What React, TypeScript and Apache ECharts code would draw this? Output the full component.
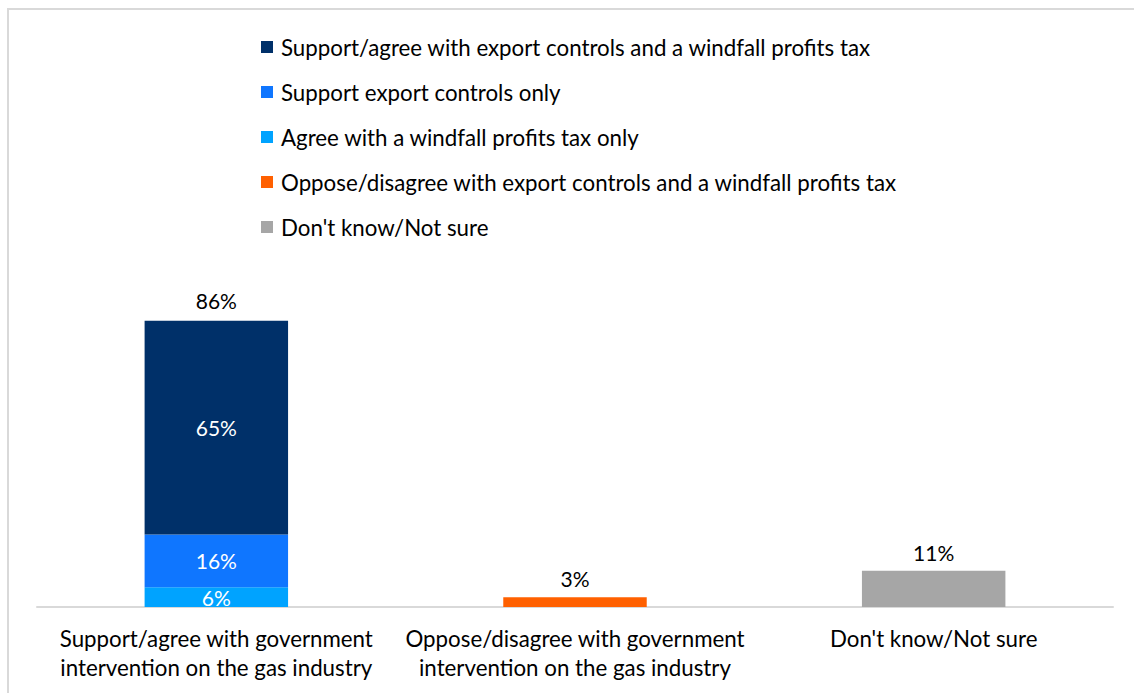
import React, { useEffect, useRef } from "react";
import * as echarts from "echarts";

const categories = [
  "Support/agree with government\nintervention on the gas industry",
  "Oppose/disagree with government\nintervention on the gas industry",
  "Don't know/Not sure",
];
const seriesNames = [
  "Support/agree with export controls and a windfall profits tax",
  "Support export controls only",
  "Agree with a windfall profits tax only",
  "Oppose/disagree with export controls and a windfall profits tax",
  "Don't know/Not sure",
];
const bothValues = [65, "-", "-"];
const exportOnlyValues = [16, "-", "-"];
const taxOnlyValues = [6, "-", "-"];
const opposeValues = ["-", 3, "-"];
const dontKnowValues = ["-", "-", 11];
const totalLabels = [86, null, null];

const COLORS = ["#003069", "#0F76FF", "#00A3FF", "#FF6000", "#A6A6A6"];
const FONT = "Lato";
const FS = 22.3;
const LFS = 21;

export default function App() {
  const ref = useRef<HTMLDivElement>(null);
  useEffect(() => {
    if (!ref.current) return;
    const chart = echarts.init(ref.current, null, { renderer: "svg" });
    const pct = (p: any) => `${p.value}%`;
    const inside = {
      show: true,
      position: "inside",
      color: "#ffffff",
      fontSize: LFS,
      fontFamily: FONT,
      formatter: pct,
    };
    const top = {
      show: true,
      position: "top",
      distance: 8,
      color: "#000000",
      fontSize: LFS,
      fontFamily: FONT,
      formatter: pct,
    };
    chart.setOption({
      animation: false,
      backgroundColor: "#ffffff",
      graphic: [
        {
          type: "rect",
          shape: { x: 8, y: 9, width: 1400, height: 1000 },
          style: { fill: "none", stroke: "#d9d9d9", lineWidth: 2 },
          silent: true,
        },
      ],
      legend: {
        orient: "vertical",
        left: 261,
        top: 36,
        padding: 0,
        itemWidth: 12,
        itemHeight: 12,
        itemGap: 23,
        icon: "rect",
        data: seriesNames,
        textStyle: {
          fontSize: FS,
          lineHeight: 20,
          fontFamily: FONT,
          color: "#000000",
          padding: [0, 0, 0, 3],
        },
      },
      grid: { left: 37, right: 21, top: 278, bottom: 86, containLabel: false },
      xAxis: {
        type: "category",
        data: categories,
        axisLine: { show: true, lineStyle: { color: "#d9d9d9", width: 2 } },
        axisTick: { show: false },
        axisLabel: {
          fontSize: FS,
          lineHeight: 29,
          fontFamily: FONT,
          color: "#000000",
          margin: 17,
          interval: 0,
        },
      },
      yAxis: {
        type: "value",
        min: 0,
        max: 100,
        show: false,
        splitLine: { show: false },
      },
      series: [
        {
          name: seriesNames[2],
          type: "bar",
          stack: "s",
          barWidth: "40%",
          data: taxOnlyValues,
          itemStyle: { color: COLORS[2] },
          label: inside,
        },
        {
          name: seriesNames[1],
          type: "bar",
          stack: "s",
          data: exportOnlyValues,
          itemStyle: { color: COLORS[1] },
          label: inside,
        },
        {
          name: seriesNames[0],
          type: "bar",
          stack: "s",
          data: bothValues,
          itemStyle: { color: COLORS[0] },
          label: inside,
        },
        {
          name: seriesNames[3],
          type: "bar",
          stack: "s",
          data: opposeValues,
          itemStyle: { color: COLORS[3] },
          label: top,
        },
        {
          name: seriesNames[4],
          type: "bar",
          stack: "s",
          data: dontKnowValues,
          itemStyle: { color: COLORS[4] },
          label: top,
        },
        {
          name: "Total",
          type: "bar",
          stack: "s",
          data: totalLabels.map((v) => (v == null ? "-" : 0)),
          itemStyle: { color: "transparent" },
          label: {
            ...top,
            distance: 10,
            formatter: (p: any) =>
              totalLabels[p.dataIndex] == null ? "" : `${totalLabels[p.dataIndex]}%`,
          },
        },
      ],
    });
    return () => chart.dispose();
  }, []);
  return (
    <div
      ref={ref}
      style={{ position: "absolute", left: 0, top: 0, width: 1134, height: 693 }}
    />
  );
}
